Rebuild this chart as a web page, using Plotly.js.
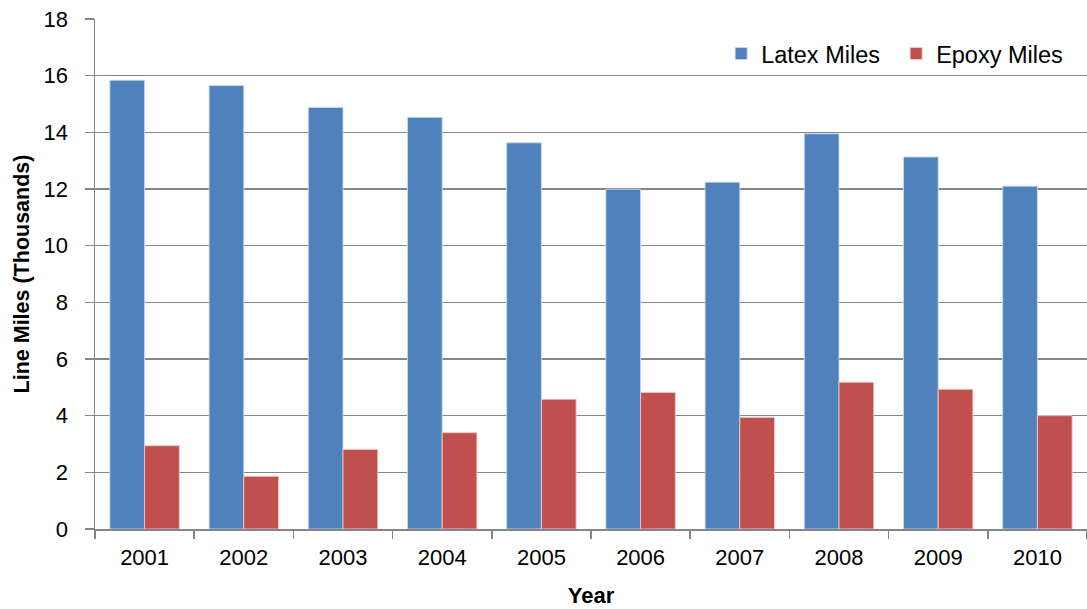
<!DOCTYPE html>
<html>
<head>
<meta charset="utf-8">
<script src="https://cdn.plot.ly/plotly-3.0.1.min.js"></script>
<style>html,body{margin:0;padding:0;background:#fff;}#chart{width:1087px;height:609px;}</style>
</head>
<body>
<div id="chart"></div>
<script>
const years = ['2001','2002','2003','2004','2005','2006','2007','2008','2009','2010'];
const latexMiles = [15.84, 15.65, 14.88, 14.53, 13.63, 11.99, 12.24, 13.95, 13.13, 12.1];
const epoxyMiles = [2.94, 1.86, 2.81, 3.40, 4.58, 4.82, 3.94, 5.18, 4.93, 4.0];
const yTicks = [0, 2, 4, 6, 8, 10, 12, 14, 16, 18];

const traces = [
  {type: 'bar', name: 'Latex Miles', x: years, y: latexMiles,
   marker: {color: '#4F81BD', line: {color: 'rgba(200,215,240,0.9)', width: 1}}},
  {type: 'bar', name: 'Epoxy Miles', x: years, y: epoxyMiles,
   marker: {color: '#C0504D', line: {color: 'rgba(240,200,200,0.9)', width: 1}}}
];

const layout = {
  width: 1087, height: 609,
  margin: {l: 95, r: 0, t: 19, b: 80},
  paper_bgcolor: '#fff', plot_bgcolor: '#fff',
  font: {family: 'Liberation Sans, Arial, sans-serif', size: 22, color: '#000'},
  barmode: 'group', bargap: 0.3, bargroupgap: 0,
  showlegend: true,
  legend: {orientation: 'h', x: 0.984, xanchor: 'right', y: 0.975, yanchor: 'top',
           font: {size: 23.5}, bgcolor: 'rgba(255,255,255,0)', itemwidth: 30, traceorder: 'normal',
           entrywidth: 130, entrywidthmode: 'pixels'},
  xaxis: {
    type: 'category', tickson: 'boundaries', ticks: 'outside', ticklen: 8, tickcolor: '#868686', tickwidth: 1.5,
    showgrid: false, showline: true, linecolor: '#868686', linewidth: 1.5,
    tickfont: {size: 22}, zeroline: false, ticklabelstandoff: 8,
    title: {text: '<b>Year</b>', font: {size: 22}, standoff: 18}
  },
  yaxis: {
    range: [0, 18], tickvals: yTicks, ticktext: yTicks.map(String),
    ticks: 'outside', ticklen: 9, tickcolor: '#868686', tickwidth: 1.5,
    showgrid: true, gridcolor: '#868686', gridwidth: 1.5,
    showline: true, linecolor: '#868686', linewidth: 1.5, zeroline: false,
    tickfont: {size: 22}, ticklabelstandoff: 12,
    title: {text: '<b>Line Miles (Thousands)</b>', font: {size: 21.5}, standoff: 8}
  }
};

Plotly.newPlot('chart', traces, layout, {displayModeBar: false, staticPlot: true});
</script>
</body>
</html>
